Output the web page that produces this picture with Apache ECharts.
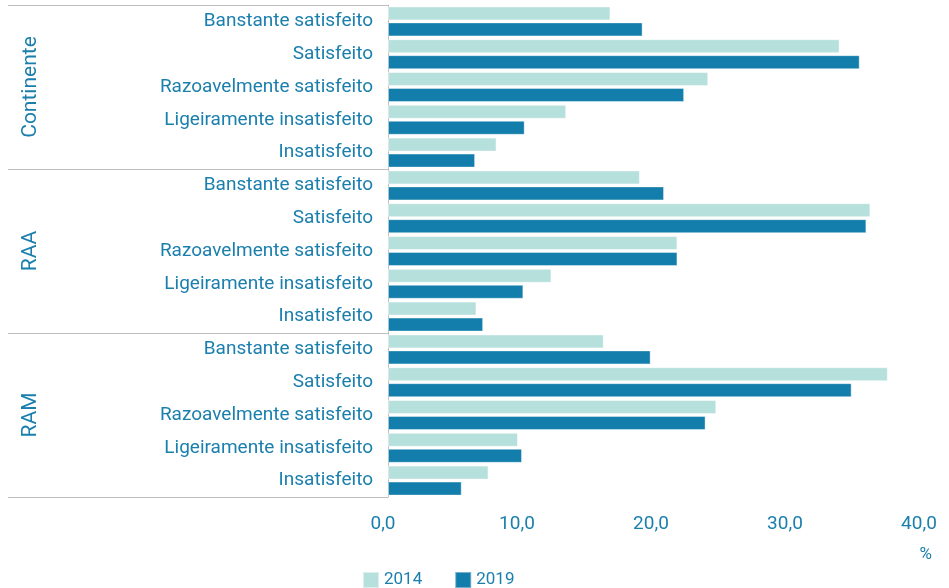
<!DOCTYPE html>
<html><head><meta charset="utf-8">
<script src="https://cdn.jsdelivr.net/npm/echarts@6/dist/echarts.min.js"></script>
<style>html,body{margin:0;padding:0;background:#fff}#c{width:949px;height:588px}</style>
</head><body><div id="c"></div>
<script>
const groups = ['Continente', 'RAA', 'RAM'];
const levels = ['Banstante satisfeito', 'Satisfeito', 'Razoavelmente satisfeito', 'Ligeiramente insatisfeito', 'Insatisfeito'];
const categories = [].concat(levels, levels, levels);
const years = ['2014', '2019'];
const values2014 = [16.6, 33.7, 23.9, 13.3, 8.1,  18.8, 36.0, 21.6, 12.2, 6.6,  16.1, 37.3, 24.5, 9.7, 7.5];
const values2019 = [19.0, 35.2, 22.1, 10.2, 6.5,  20.6, 35.7, 21.6, 10.1, 7.1,  19.6, 34.6, 23.7, 10.0, 5.5];
const xTicks = [0, 10, 20, 30, 40];

const blue = '#1b7fad';
const font = 'Roboto';
const chart = echarts.init(document.getElementById('c'));
chart.setOption({
  animation: false,
  textStyle: {fontFamily: font},
  grid: {left: 388, right: 25, top: 5, bottom: 91},
  title: {text: '%', right: 12, top: 541, textStyle: {fontSize: 17, fontWeight: 'normal', color: blue, fontFamily: font}},
  legend: {
    data: years, bottom: -6, left: 357, itemWidth: 16, itemHeight: 16, itemGap: 32, icon: 'rect',
    textStyle: {fontSize: 17, color: blue, fontFamily: font}
  },
  xAxis: {
    type: 'value', min: xTicks[0], max: xTicks[xTicks.length - 1], interval: 10,
    splitLine: {show: false}, axisLine: {show: false}, axisTick: {show: false},
    axisLabel: {margin: 18, fontSize: 19, color: blue, fontFamily: font,
      formatter: v => v.toFixed(1).replace('.', ','), padding: [0, 10, 0, 0]}
  },
  yAxis: [{
    type: 'category', data: categories, inverse: true,
    axisLine: {show: false}, axisTick: {show: false},
    axisLabel: {margin: 15, fontSize: 19, color: blue, fontFamily: font, interval: 0}
  }, {
    type: 'category', data: groups, inverse: true, position: 'left',
    axisLine: {show: true, lineStyle: {color: '#bfbfbf', width: 1}},
    axisTick: {show: true, length: 380, lineStyle: {color: '#bfbfbf', width: 1}},
    axisLabel: {rotate: 90, margin: 347, fontSize: 21, color: blue, fontFamily: font}
  }],
  series: [{
    name: years[0], type: 'bar', data: values2014, barWidth: 14, barGap: '14%',
    itemStyle: {color: '#b5e0dc', borderColor: 'rgba(255,255,255,0.5)', borderWidth: 1}
  }, {
    name: years[1], type: 'bar', data: values2019, barWidth: 14,
    itemStyle: {color: '#137eab', borderColor: 'rgba(255,255,255,0.4)', borderWidth: 1}
  }]
});
</script></body></html>
